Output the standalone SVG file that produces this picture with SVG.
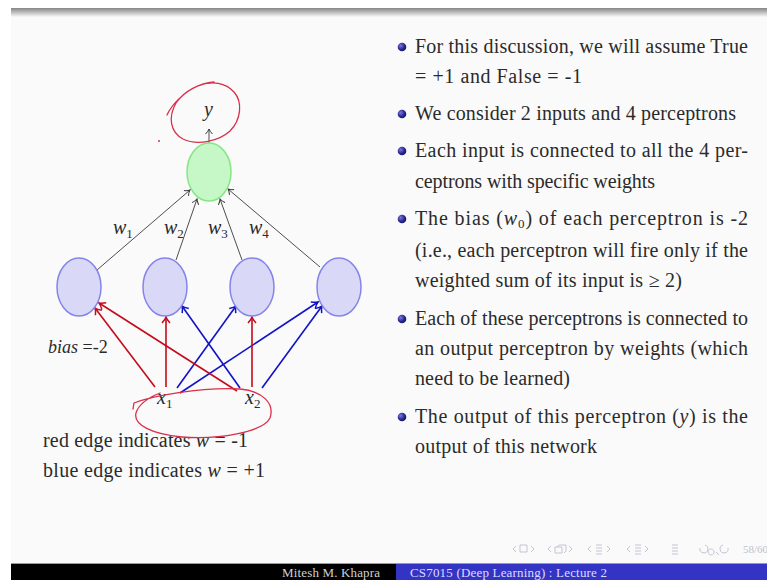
<svg xmlns="http://www.w3.org/2000/svg" width="767" height="580" viewBox="0 0 767 580">
<style>
.txt{font-family:"Liberation Serif","DejaVu Serif",serif;font-size:20px;fill:#2b2b2b}
.it{font-style:italic}
.sub{font-size:13px}
.hid{fill:#d9d9f7;stroke:#8484ea;stroke-width:1.5}
.out{fill:#c6f7c6;stroke:#86e686;stroke-width:1.5}
.blk{stroke:#3a3a3a;stroke-width:0.9;fill:none;marker-end:url(#ab)}
.red{stroke:#c40c1c;stroke-width:1.6;fill:none;marker-end:url(#ar)}
.blu{stroke:#1212c8;stroke-width:1.6;fill:none;marker-end:url(#au)}
.ink{stroke:#d8304a;stroke-width:1.3;fill:none;stroke-linecap:round}
.nav{fill:none;stroke:#c4c4d4;stroke-width:1}
.foot{font-family:"Liberation Serif",serif;font-size:13px}
</style>
<defs>
<marker id="ab" markerUnits="userSpaceOnUse" markerWidth="12" markerHeight="12" refX="0" refY="0" orient="auto" overflow="visible"><path d="M-5,-3.5 Q-2,-0.6 0,0 Q-2,0.6 -5,3.5" fill="none" stroke="#3a3a3a" stroke-width="1"/></marker>
<marker id="ar" markerUnits="userSpaceOnUse" markerWidth="12" markerHeight="12" refX="0" refY="0" orient="auto" overflow="visible"><path d="M-6,-4 Q-2.4,-0.7 0,0 Q-2.4,0.7 -6,4" fill="none" stroke="#c40c1c" stroke-width="1.5"/></marker>
<marker id="au" markerUnits="userSpaceOnUse" markerWidth="12" markerHeight="12" refX="0" refY="0" orient="auto" overflow="visible"><path d="M-6,-4 Q-2.4,-0.7 0,0 Q-2.4,0.7 -6,4" fill="none" stroke="#1212c8" stroke-width="1.5"/></marker>
<linearGradient id="topg" x1="0" y1="0" x2="0" y2="1"><stop offset="0" stop-color="#858585"/><stop offset="0.3" stop-color="#a8a8a8"/><stop offset="1" stop-color="#fafafa"/></linearGradient>
<radialGradient id="bul" cx="0.35" cy="0.35" r="0.7"><stop offset="0" stop-color="#7a7ad8"/><stop offset="0.6" stop-color="#2a2a9a"/><stop offset="1" stop-color="#14145a"/></radialGradient>
</defs>
<rect x="0" y="0" width="767" height="580" fill="#ffffff"/>
<rect x="11" y="8" width="756" height="556" fill="#fafafa"/>
<rect x="11" y="8" width="756" height="9" fill="url(#topg)"/>

<!-- connectors -->
<g id="connectors">
<line class="blk" x1="209" y1="143" x2="209" y2="129"/>
<line class="blk" x1="97" y1="270" x2="190" y2="190"/>
<line class="blk" x1="176" y1="260" x2="197" y2="199"/>
<line class="blk" x1="242" y1="260" x2="220" y2="199"/>
<line class="blk" x1="320" y1="267" x2="228" y2="189"/>
<line class="red" x1="155" y1="387" x2="95" y2="308"/>
<line class="red" x1="166" y1="387" x2="166" y2="317"/>
<line class="blu" x1="177" y1="388" x2="236" y2="306"/>
<line class="blu" x1="180" y1="393" x2="318" y2="302"/>
<line class="red" x1="237" y1="391" x2="99" y2="303"/>
<line class="blu" x1="240" y1="388" x2="182" y2="306"/>
<line class="red" x1="252" y1="387" x2="252" y2="317"/>
<line class="blu" x1="262" y1="388" x2="322" y2="306"/>
</g>

<g id="output"><ellipse class="out" cx="209" cy="172" rx="22" ry="29"/></g>
<g id="h1"><ellipse class="hid" cx="79" cy="287" rx="22" ry="29"/></g>
<g id="h2"><ellipse class="hid" cx="165" cy="287" rx="22" ry="29"/></g>
<g id="h3"><ellipse class="hid" cx="252" cy="287" rx="22" ry="29"/></g>
<g id="h4"><ellipse class="hid" cx="339" cy="287" rx="22" ry="29"/></g>

<g id="y-label"><text class="txt it" x="204" y="116">y</text></g>
<g id="weights">
<text class="txt" x="113" y="234"><tspan class="it">w</tspan><tspan class="sub" dy="4">1</tspan></text>
<text class="txt" x="164" y="234"><tspan class="it">w</tspan><tspan class="sub" dy="4">2</tspan></text>
<text class="txt" x="208" y="234"><tspan class="it">w</tspan><tspan class="sub" dy="4">3</tspan></text>
<text class="txt" x="249" y="234"><tspan class="it">w</tspan><tspan class="sub" dy="4">4</tspan></text>
</g>
<g id="x1"><text class="txt" x="157" y="404"><tspan class="it">x</tspan><tspan class="sub" dy="4">1</tspan></text></g>
<g id="x2"><text class="txt" x="245" y="404"><tspan class="it">x</tspan><tspan class="sub" dy="4">2</tspan></text></g>
<g id="bias"><text class="txt" x="48" y="353" style="font-size:18px"><tspan class="it">bias</tspan> =-2</text></g>
<g id="legend">
<text class="txt" x="43" y="447" textLength="205" lengthAdjust="spacing">red edge indicates <tspan class="it">w</tspan> = -1</text>
<text class="txt" x="43" y="477" textLength="222" lengthAdjust="spacing">blue edge indicates <tspan class="it">w</tspan> = +1</text>
</g>

<!-- hand-drawn annotations -->
<g id="annotations">
<path class="ink" d="M167,115 C172,104 184,92 198,86 C212,80 226,83 234,92 C243,102 241,120 230,131 C219,141 198,146 183,139 C170,132 168,117 176,103 C184,91 200,83 214,82"/>
<circle cx="159" cy="141" r="1" fill="#d8304a"/>
<path class="ink" d="M133,409 L134,403 C152,396 200,387 240,389 C262,391 275,403 270,418 C263,432 218,440 182,437 C152,434 133,425 136,413 C139,403 150,397 160,393"/>
</g>

<!-- bullets -->
<g id="bullets">
<circle cx="402" cy="47" r="4.3" fill="url(#bul)"/>
<circle cx="402" cy="114" r="4.3" fill="url(#bul)"/>
<circle cx="402" cy="151" r="4.3" fill="url(#bul)"/>
<circle cx="402" cy="219" r="4.3" fill="url(#bul)"/>
<circle cx="402" cy="319" r="4.3" fill="url(#bul)"/>
<circle cx="402" cy="417" r="4.3" fill="url(#bul)"/>
</g>
<g id="text-right">
<text class="txt" x="415" y="53" textLength="333" lengthAdjust="spacing">For this discussion, we will assume True</text>
<text class="txt" x="415" y="83" textLength="167" lengthAdjust="spacing">= +1 and False = -1</text>
<text class="txt" x="415" y="120" textLength="321" lengthAdjust="spacing">We consider 2 inputs and 4 perceptrons</text>
<text class="txt" x="415" y="157" textLength="333" lengthAdjust="spacing">Each input is connected to all the 4 per-</text>
<text class="txt" x="415" y="188" textLength="240" lengthAdjust="spacing">ceptrons with specific weights</text>
<text class="txt" x="415" y="225" textLength="333" lengthAdjust="spacing">The bias (<tspan class="it">w</tspan><tspan class="sub" dy="3">0</tspan><tspan dy="-3">) of each perceptron is -2</tspan></text>
<text class="txt" x="415" y="257" textLength="333" lengthAdjust="spacing">(i.e., each perceptron will fire only if the</text>
<text class="txt" x="415" y="287" textLength="267" lengthAdjust="spacing">weighted sum of its input is ≥ 2)</text>
<text class="txt" x="415" y="325" textLength="333" lengthAdjust="spacing">Each of these perceptrons is connected to</text>
<text class="txt" x="415" y="355" textLength="333" lengthAdjust="spacing">an output perceptron by weights (which</text>
<text class="txt" x="415" y="385" textLength="155" lengthAdjust="spacing">need to be learned)</text>
<text class="txt" x="415" y="423" textLength="333" lengthAdjust="spacing">The output of this perceptron (<tspan class="it">y</tspan>) is the</text>
<text class="txt" x="415" y="453" textLength="182" lengthAdjust="spacing">output of this network</text>
</g>

<!-- navigation symbols -->
<g id="nav">
<path class="nav" d="M516,546 l-3,3 l3,3 M520,545 h7 v7 h-7 z M531,546 l3,3 l-3,3"/>
<path class="nav" d="M551,546 l-3,3 l3,3 M555,547 h7 v6 h-7 z M557,547 l2,-2 h7 v6 l-2,2 M569,546 l3,3 l-3,3"/>
<path class="nav" d="M591,546 l-3,3 l3,3 M596,545 h6 M596,548 h6 M596,551 h6 M596,554 h6 M607,546 l3,3 l-3,3"/>
<path class="nav" d="M630,546 l-3,3 l3,3 M635,545 h6 M635,548 h6 M635,551 h6 M635,554 h6 M645,546 l3,3 l-3,3"/>
<path class="nav" d="M672,545 h6 M672,548 h6 M672,551 h6 M672,554 h6"/>
<path class="nav" d="M700,548 a4,4 0 1 0 5,-3 M711,549 a3,3 0 1 0 0.1,0 M716,552 l3,3 M728,548 a4,4 0 1 1 -5,-3"/>
<text x="743" y="553" style="font-family:'Liberation Serif',serif;font-size:11px;fill:#c0c0cc">58/60</text>
</g>

<!-- footer -->
<g id="footer">
<rect x="11" y="563" width="756" height="1" fill="#9a9a9a"/>
<rect x="11" y="564" width="385" height="16" fill="#000000"/>
<rect x="396" y="564" width="371" height="16" fill="#3434c4"/>
<text class="foot" x="282" y="577" fill="#d0d0d0" textLength="98" lengthAdjust="spacing">Mitesh M. Khapra</text>
<text class="foot" x="410" y="577" fill="#dcdcff" textLength="197" lengthAdjust="spacing">CS7015 (Deep Learning) : Lecture 2</text>
</g>
</svg>
